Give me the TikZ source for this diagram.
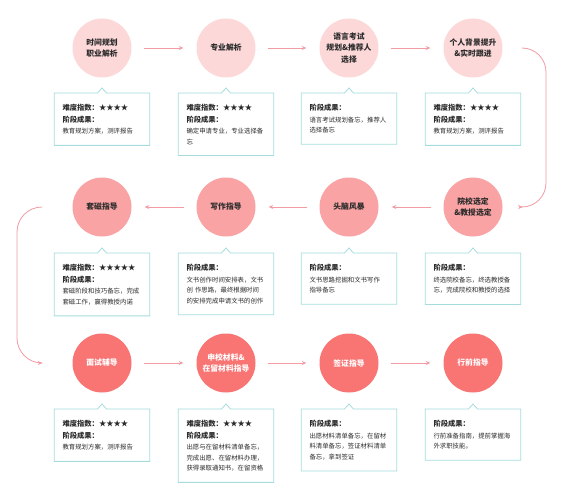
\documentclass[tikz,border=0pt]{standalone}
\usepackage{fontspec}
\newfontfamily\cjk{Noto Sans CJK SC}
\usetikzlibrary{arrows.meta}
\definecolor{ringA}{HTML}{FDD8D9}
\definecolor{ringB}{HTML}{FAA3A4}
\definecolor{ringC}{HTML}{F87574}
\definecolor{flowline}{HTML}{F29CA3}
\definecolor{boxline}{HTML}{A6DCDD}
\definecolor{textdark}{HTML}{2B2B2B}
\newcommand{\ttl}[1]{{\bfseries\fontsize{7.3}{10.5}\selectfont #1}}

\begin{document}
\begin{tikzpicture}[x=1pt,y=-1pt]
    \tikzset{phase/.style = {shape=circle,minimum size=59pt,inner sep=0pt,align=center,text=textdark,font=\cjk\bfseries\fontsize{7.8}{11.5}\selectfont}}
    \tikzset{phaseA/.style = {phase,fill=ringA}}
    \tikzset{phaseB/.style = {phase,fill=ringB}}
    \tikzset{phaseC/.style = {phase,fill=ringC,text=white}}
    \tikzset{result/.style = {anchor=north,text width=79pt,inner xsep=8pt,inner ysep=11pt,align=left,text=textdark,font=\cjk\fontsize{6.4}{10.5}\selectfont}}
    \tikzset{flow/.style = {-{Stealth[length=4.5pt,width=4pt]},draw=flowline,line width=0.8pt,shorten <=12pt,shorten >=13pt}}
    \tikzset{callout/.style = {draw=boxline,line width=0.8pt}}
    \fill[white] (0,0) rectangle (567,500);
    \useasboundingbox (0,0) rectangle (567,500);
    % stages
    \node[phaseA] (c1) at (102,48) {时间规划\\职业解析};
    \node[phaseA] (c2) at (226,48) {专业解析};
    \node[phaseA] (c3) at (349,48) {语言考试\\规划\&推荐人\\选择};
    \node[phaseA] (c4) at (473,48) {个人背景提升\\\&实时跟进};
    \node[phaseB] (c5) at (473,207) {院校选定\\\&教授选定};
    \node[phaseB] (c6) at (349,207) {头脑风暴};
    \node[phaseB] (c7) at (226,207) {写作指导};
    \node[phaseB] (c8) at (102,207) {套磁指导};
    \node[phaseC] (c9) at (102,363) {面试辅导};
    \node[phaseC] (c10) at (226,363) {申校材料\&\\在留材料指导};
    \node[phaseC] (c11) at (349,363) {签证指导};
    \node[phaseC] (c12) at (473,363) {行前指导};
    % results
    \node[result] (b1) at (102,93) {\ttl{难度指数：★★★★}\\[1pt]\ttl{阶段成果：}\\[1pt]教育规划方案，测评报告};
    \node[result] (b2) at (226,93) {\ttl{难度指数：★★★★}\\[1pt]\ttl{阶段成果：}\\[1pt]确定申请专业，专业选择备\\忘};
    \node[result] (b3) at (349,93) {\ttl{阶段成果：}\\[1pt]语言考试规划备忘，推荐人\\选择备忘};
    \node[result] (b4) at (473,93) {\ttl{难度指数：★★★★}\\[1pt]\ttl{阶段成果：}\\[1pt]教育规划方案，测评报告};
    \node[result] (b5) at (473,253) {\ttl{阶段成果：}\\[1pt]终选院校备忘，终选教授备\\忘，完成院校和教授的选择};
    \node[result] (b6) at (349,253) {\ttl{阶段成果：}\\[1pt]文书思路挖掘和文书写作\\指导备忘};
    \node[result] (b7) at (226,253) {\ttl{阶段成果：}\\[1pt]文书创作时间安排表，文书\\创 作思路，最终根据时间\\的安排完成申请文书的创作};
    \node[result] (b8) at (102,253) {\ttl{难度指数：★★★★★}\\[1pt]\ttl{阶段成果：}\\[1pt]套磁阶段和技巧备忘，完成\\套磁工作，赢得教授内诺};
    \node[result] (b9) at (102,409) {\ttl{难度指数：★★★★}\\[1pt]\ttl{阶段成果：}\\[1pt]教育规划方案，测评报告};
    \node[result] (b10) at (226,409) {\ttl{难度指数：★★★★}\\[1pt]\ttl{阶段成果：}\\[1pt]出愿与在留材料清单备忘，\\完成出愿、在留材料办理，\\获得录取通知书，在留资格};
    \node[result] (b11) at (349,409) {\ttl{阶段成果：}\\[1pt]出愿材料清单备忘，在留材\\料清单备忘，签证材料清单\\备忘，拿到签证};
    \node[result] (b12) at (473,409) {\ttl{阶段成果：}\\[1pt]行前准备指南，提前掌握海\\外求职技能。};
    \foreach \b in {b1,b2,b3,b4,b5,b6,b7,b8,b9,b10,b11,b12}
        \draw[callout] (\b.north west) -- ([xshift=-4.5pt]\b.north) -- ([yshift=5pt]\b.north)
            -- ([xshift=4.5pt]\b.north) -- (\b.north east) -- (\b.south east) -- (\b.south west) -- cycle;
    % flow
    \draw[flow] (c1) -- (c2);
    \draw[flow] (c2) -- (c3);
    \draw[flow] (c3) -- (c4);
    \draw[flow,shorten <=0pt,shorten >=0pt,rounded corners=24pt] ([xshift=20pt]c4.east) -| (546,127) |- ([xshift=20pt]c5.east);
    \draw[flow] (c5) -- (c6);
    \draw[flow] (c6) -- (c7);
    \draw[flow] (c7) -- (c8);
    \draw[flow,shorten <=0pt,shorten >=0pt,rounded corners=25pt] ([xshift=-30pt]c8.west) -| (17,285) |- ([xshift=-30pt]c9.west);
    \draw[flow] (c9) -- (c10);
    \draw[flow] (c10) -- (c11);
    \draw[flow] (c11) -- (c12);
\end{tikzpicture}
\end{document}
